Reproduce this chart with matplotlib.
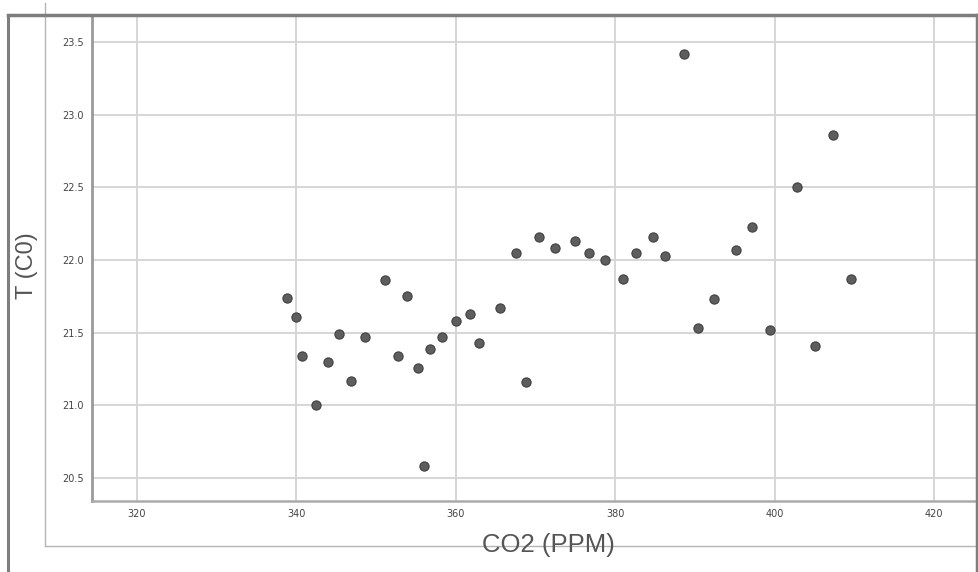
import matplotlib
matplotlib.use('Agg')
import matplotlib.pyplot as plt
from matplotlib.lines import Line2D

W, H = 979, 572

co2 = [338.8, 339.95, 340.7, 342.5, 344.0, 345.3, 346.9, 348.6, 351.1, 352.7,
       353.9, 355.3, 356.0, 356.8, 358.3, 360.0, 361.8, 362.9, 365.5, 367.6,
       368.8, 370.4, 372.4, 375.0, 376.7, 378.7, 381.0, 382.6, 384.7, 386.2,
       388.6, 390.4, 392.4, 395.2, 397.2, 399.4, 402.8, 405.1, 407.3, 409.6]
temp = [21.74, 21.61, 21.34, 21.00, 21.30, 21.49, 21.17, 21.47, 21.86, 21.34,
        21.75, 21.26, 20.58, 21.39, 21.47, 21.58, 21.63, 21.43, 21.67, 22.05,
        21.16, 22.16, 22.08, 22.13, 22.05, 22.00, 21.87, 22.05, 22.16, 22.03,
        23.42, 21.53, 21.73, 22.07, 22.23, 21.52, 22.50, 21.41, 22.86, 21.87]

x_ticks = [320, 340, 360, 380, 400, 420]
y_ticks = [20.5, 21.0, 21.5, 22.0, 22.5, 23.0, 23.5]


def fx(px):
    return px / W


def fy(py):
    return 1 - py / H


fig = plt.figure(figsize=(W / 100, H / 100), dpi=100)
ax = fig.add_axes([fx(92), fy(501), fx(977) - fx(92), fy(15) - fy(501)])

ax.scatter(co2, temp, s=44, color='#5e5e5e', edgecolors='#404040',
           linewidths=0.8, zorder=3)

ax.set_xlim(314.35, 425.4)
ax.set_ylim(20.342, 23.686)
ax.set_xticks(x_ticks)
ax.set_yticks(y_ticks)
ax.set_yticklabels(['{:.1f}'.format(v) for v in y_ticks])
ax.tick_params(length=0, labelsize=7, labelcolor='#444444', pad=6)
ax.grid(True, color='#d6d6d6', lw=1.4)
ax.set_axisbelow(True)

for side in ['top', 'right']:
    ax.spines[side].set_visible(False)
ax.spines['left'].set_color('#9a9a9a')
ax.spines['left'].set_linewidth(2)
ax.spines['bottom'].set_color('#aaaaaa')
ax.spines['bottom'].set_linewidth(1.8)

# frame lines round the screenshot
thin = '#b4b4b4'
thick = '#7e7e7e'
fig.add_artist(Line2D([fx(45), fx(45)], [fy(3), fy(546)], color=thin, lw=1))
fig.add_artist(Line2D([fx(45), fx(979)], [fy(546), fy(546)], color=thin, lw=1))
fig.add_artist(Line2D([fx(8), fx(8)], [fy(15), fy(572)], color=thick, lw=2.2))
fig.add_artist(Line2D([fx(8), fx(977)], [fy(15), fy(15)], color=thick, lw=2.5))
fig.add_artist(Line2D([fx(977), fx(977)], [fy(15), fy(572)], color=thick, lw=2.5))

fig.text(fx(548), fy(545), 'CO2 (PPM)', ha='center', va='center',
         fontsize=18.5, color='#555555', family='Liberation Sans')
fig.text(fx(27), fy(266), 'T (C0)', ha='center', va='center', rotation=90,
         fontsize=17, color='#555555', family='Liberation Sans')

fig.savefig('out.png', dpi=100)
